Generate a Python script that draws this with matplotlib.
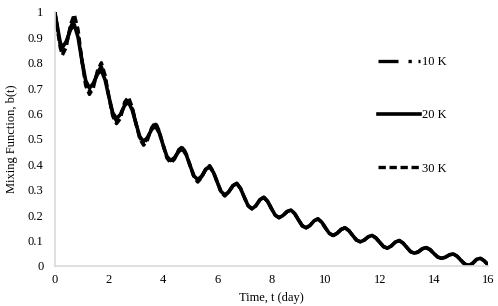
import matplotlib
matplotlib.use("Agg")
import matplotlib.pyplot as plt

plt.rcParams["font.family"] = ["Liberation Serif", "DejaVu Serif"]

# ---------- data ----------
# first six days, where the three temperatures differ a little
t_early = [0, 0.1, 0.2,
           0.28, 0.42, 0.58, 0.72, 0.86, 1.0, 1.14,
           1.28, 1.42, 1.58, 1.72, 1.86, 2.0, 2.14,
           2.28, 2.42, 2.58, 2.72, 2.86, 3.0, 3.14,
           3.28, 3.42, 3.58, 3.72, 3.86, 4.0, 4.14,
           4.28, 4.42, 4.58, 4.72, 4.86, 5.0, 5.14,
           5.28, 5.42, 5.58, 5.72, 5.86, 6.0, 6.14,
           6.28]

b_20k_early = [1.0, 0.94, 0.88,
               0.86, 0.883, 0.93, 0.95, 0.90, 0.81, 0.73,
               0.70, 0.718, 0.756, 0.77, 0.732, 0.665, 0.603,
               0.58, 0.596, 0.632, 0.645, 0.614, 0.56, 0.509,
               0.49, 0.505, 0.538, 0.55, 0.523, 0.476, 0.431,
               0.415, 0.426, 0.451, 0.46, 0.436, 0.394, 0.354,
               0.34, 0.353, 0.38, 0.39, 0.368, 0.33, 0.293,
               0.28]

b_10k_early = [1.0, 0.935, 0.87,
               0.845, 0.87, 0.94, 0.97, 0.915, 0.81, 0.72,
               0.688, 0.71, 0.763, 0.785, 0.74, 0.665, 0.597,
               0.57, 0.588, 0.638, 0.655, 0.62, 0.56, 0.505,
               0.483, 0.50, 0.541, 0.558, 0.527, 0.476, 0.428,
               0.41, 0.423, 0.455, 0.465, 0.438, 0.394, 0.352,
               0.335, 0.35, 0.382, 0.392, 0.369, 0.33, 0.291,
               0.278]

b_30k_early = [1.0, 0.93, 0.86,
               0.83, 0.86, 0.95, 0.99, 0.93, 0.81, 0.71,
               0.675, 0.70, 0.77, 0.80, 0.75, 0.665, 0.59,
               0.56, 0.58, 0.645, 0.665, 0.625, 0.56, 0.50,
               0.475, 0.495, 0.545, 0.565, 0.53, 0.476, 0.425,
               0.405, 0.42, 0.458, 0.47, 0.44, 0.394, 0.35,
               0.33, 0.347, 0.384, 0.395, 0.37, 0.33, 0.29,
               0.275]

# after day six the three curves lie on top of each other
t_late = [6.42, 6.58, 6.72, 6.86, 7.0, 7.14,
          7.28, 7.42, 7.58, 7.72, 7.86, 8.0, 8.14,
          8.28, 8.42, 8.58, 8.72, 8.86, 9.0, 9.14,
          9.28, 9.42, 9.58, 9.72, 9.86, 10.0, 10.14,
          10.28, 10.42, 10.58, 10.72, 10.86, 11.0, 11.14,
          11.28, 11.42, 11.58, 11.72, 11.86, 12.0, 12.14,
          12.28, 12.42, 12.58, 12.72, 12.86, 13.0, 13.14,
          13.28, 13.42, 13.58, 13.72, 13.86, 14.0, 14.14,
          14.28, 14.42, 14.58, 14.72, 14.86, 15.0, 15.14,
          15.28, 15.42, 15.58, 15.72, 15.86, 16.0]

b_late = [0.291, 0.316, 0.325, 0.305, 0.27, 0.237,
          0.225, 0.236, 0.261, 0.27, 0.254, 0.226, 0.20,
          0.19, 0.198, 0.214, 0.22, 0.206, 0.181, 0.158,
          0.15, 0.159, 0.178, 0.185, 0.172, 0.149, 0.128,
          0.12, 0.128, 0.144, 0.15, 0.139, 0.12, 0.102,
          0.095, 0.101, 0.115, 0.12, 0.11, 0.093, 0.076,
          0.07, 0.078, 0.094, 0.10, 0.09, 0.073, 0.056,
          0.05, 0.055, 0.068, 0.072, 0.064, 0.049, 0.035,
          0.03, 0.034, 0.044, 0.047, 0.038, 0.022, 0.007,
          0.002, 0.009, 0.026, 0.03, 0.02, 0.004]

labels = ["10 K", "20 K", "30 K"]
x_ticks = [0, 2, 4, 6, 8, 10, 12, 14, 16]
y_ticks = [0, 0.1, 0.2, 0.3, 0.4, 0.5, 0.6, 0.7, 0.8, 0.9, 1]

t_day = t_early + t_late
b_10k = b_10k_early + b_late
b_20k = b_20k_early + b_late
b_30k = b_30k_early + b_late

# ---------- plot ----------
fig = plt.figure(figsize=(4.98, 3.06), dpi=100)
ax = fig.add_axes([0.110, 0.131, 0.870, 0.830])

ax.plot(t_day, b_10k, color="black", lw=2.4, ls=(0, (6, 3, 1, 2, 1, 3)), label=labels[0])
ax.plot(t_day, b_20k, color="black", lw=2.6, ls="-", label=labels[1])
ax.plot(t_day, b_30k, color="black", lw=2.4, ls=(0, (2.2, 1.1)), label=labels[2])

ax.set_xlim(0, 16)
ax.set_ylim(0, 1)
ax.set_xticks(x_ticks)
ax.set_yticks(y_ticks)
ax.set_yticklabels([f"{v:g}" for v in y_ticks])
ax.tick_params(axis="y", length=0, labelsize=9, pad=8)
ax.tick_params(axis="x", length=0, labelsize=9, pad=6)

for side in ["top", "right"]:
    ax.spines[side].set_visible(False)
for side in ["left", "bottom"]:
    ax.spines[side].set_color("#d9d9d9")
    ax.spines[side].set_linewidth(1.2)

ax.set_xlabel("Time, t (day)", fontsize=9, labelpad=4)
ax.set_ylabel("Mixing Function, b(t)", fontsize=9, labelpad=7)

ax.legend(loc="upper left", bbox_to_anchor=(0.72, 0.87), frameon=False, fontsize=9,
          handlelength=3.4, handletextpad=0.15, labelspacing=3.3)

plt.savefig("out.png", dpi=100)
